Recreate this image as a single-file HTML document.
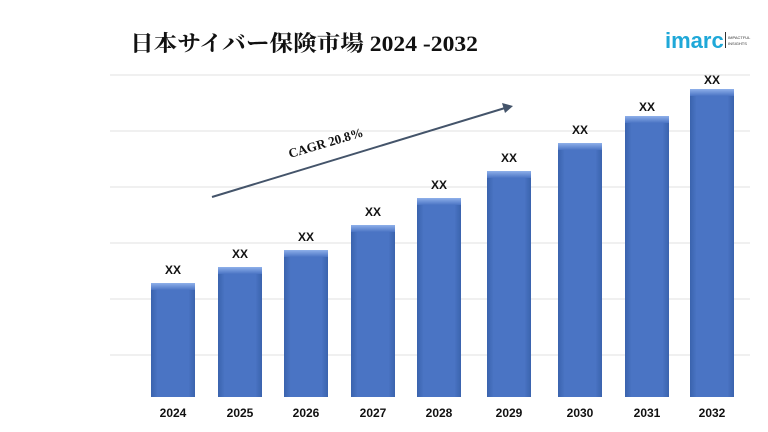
<!DOCTYPE html><html><head><style>body{margin:0;background:#fff}svg{display:block}</style></head><body>
<svg width="768" height="432" xmlns="http://www.w3.org/2000/svg">
<defs><linearGradient id="g" x1="0" x2="1"><stop offset="0" stop-color="#3a63ad"/><stop offset=".15" stop-color="#4a74c4"/><stop offset=".85" stop-color="#4a74c4"/><stop offset="1" stop-color="#3a63ad"/></linearGradient>
<linearGradient id="t" x1="0" y1="0" x2="0" y2="1"><stop offset="0" stop-color="#8fb0ea"/><stop offset="1" stop-color="#4a74c4"/></linearGradient></defs>
<text x="130" y="51" font-family="Liberation Serif,'Noto Serif CJK SC',serif" font-weight="bold" font-size="22" textLength="348" lengthAdjust="spacingAndGlyphs" fill="#111">日本サイバー保険市場 2024 -2032</text>
<text x="665" y="48" font-family="Liberation Sans,sans-serif" font-weight="bold" font-size="22" fill="#1fa8d8">imarc</text>
<rect x="725" y="32" width="1" height="16" fill="#333"/>
<text x="728" y="39" font-family="Liberation Sans,sans-serif" font-size="4" fill="#333">IMPACTFUL</text>
<text x="728" y="45" font-family="Liberation Sans,sans-serif" font-size="4" fill="#333">INSIGHTS</text>
<g stroke="#e2e2e2" stroke-width="1">
<line x1="110" x2="750" y1="75" y2="75"/><line x1="110" x2="750" y1="131" y2="131"/><line x1="110" x2="750" y1="187" y2="187"/><line x1="110" x2="750" y1="243" y2="243"/><line x1="110" x2="750" y1="299" y2="299"/><line x1="110" x2="750" y1="355" y2="355"/></g>
<g font-family="Liberation Sans,sans-serif" font-weight="bold" font-size="12" fill="#111" text-anchor="middle">
<rect x="151" y="283" width="44" height="114" fill="url(#g)"/><rect x="151" y="283" width="44" height="7" fill="url(#t)"/><text x="173" y="274">XX</text><text x="173" y="417">2024</text>
<rect x="218" y="267" width="44" height="130" fill="url(#g)"/><rect x="218" y="267" width="44" height="7" fill="url(#t)"/><text x="240" y="258">XX</text><text x="240" y="417">2025</text>
<rect x="284" y="250" width="44" height="147" fill="url(#g)"/><rect x="284" y="250" width="44" height="7" fill="url(#t)"/><text x="306" y="241">XX</text><text x="306" y="417">2026</text>
<rect x="351" y="225" width="44" height="172" fill="url(#g)"/><rect x="351" y="225" width="44" height="7" fill="url(#t)"/><text x="373" y="216">XX</text><text x="373" y="417">2027</text>
<rect x="417" y="198" width="44" height="199" fill="url(#g)"/><rect x="417" y="198" width="44" height="7" fill="url(#t)"/><text x="439" y="189">XX</text><text x="439" y="417">2028</text>
<rect x="487" y="171" width="44" height="226" fill="url(#g)"/><rect x="487" y="171" width="44" height="7" fill="url(#t)"/><text x="509" y="162">XX</text><text x="509" y="417">2029</text>
<rect x="558" y="143" width="44" height="254" fill="url(#g)"/><rect x="558" y="143" width="44" height="7" fill="url(#t)"/><text x="580" y="134">XX</text><text x="580" y="417">2030</text>
<rect x="625" y="116" width="44" height="281" fill="url(#g)"/><rect x="625" y="116" width="44" height="7" fill="url(#t)"/><text x="647" y="111">XX</text><text x="647" y="417">2031</text>
<rect x="690" y="89" width="44" height="308" fill="url(#g)"/><rect x="690" y="89" width="44" height="7" fill="url(#t)"/><text x="712" y="84">XX</text><text x="712" y="417">2032</text>
</g>
<line x1="212" y1="197" x2="505" y2="108" stroke="#44546a" stroke-width="2"/>
<polygon points="513,106 502,103 505,113" fill="#44546a"/>
<text x="0" y="0" transform="translate(290,158) rotate(-16.5)" font-family="Liberation Serif,serif" font-weight="bold" font-size="13" fill="#111">CAGR 20.8%</text>
</svg></body></html>
